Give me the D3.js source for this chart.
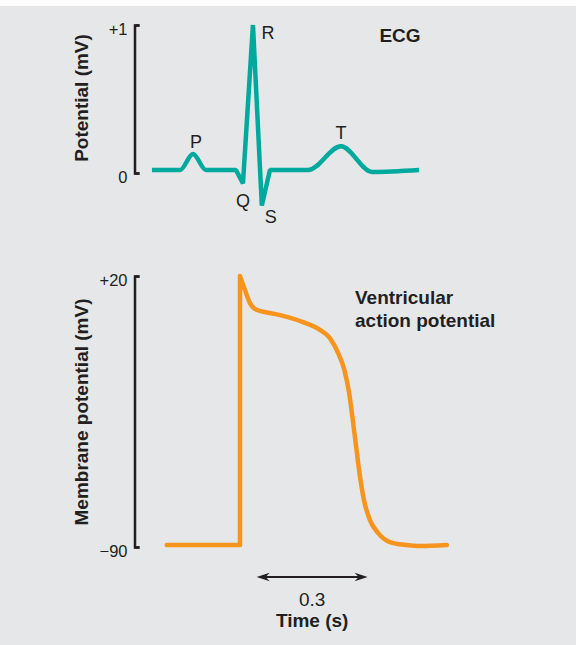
<!DOCTYPE html>
<html>
<head>
<meta charset="utf-8">
<script src="https://cdn.jsdelivr.net/npm/d3@7/dist/d3.min.js"></script>
<style>
  html, body { margin: 0; padding: 0; background: #ffffff; }
  svg { display: block; }
  text { font-family: "Liberation Sans", Arial, Helvetica, sans-serif; fill: #231f20; }
</style>
</head>
<body>
<svg id="chart" width="576" height="645"></svg>
<script>
// ---- ECG trace (time in s, potential in mV), split into smooth and sharp stretches ----
const ecgPWaveT   = [-0.238, -0.162, -0.127, -0.092, -0.011];
const ecgPWaveMv  = [0.02, 0.02, 0.128, 0.02, 0.02];
const ecgQrsT     = [-0.011, 0.008, 0.035, 0.059, 0.081];
const ecgQrsMv    = [0.02, -0.07, 1.0, -0.22, 0.02];
const ecgTWaveT   = [0.081, 0.184, 0.273, 0.357, 0.484];
const ecgTWaveMv  = [0.02, 0.02, 0.18, 0.007, 0.02];

const ecgTicks      = [0, 1];
const ecgTickLabels = ["0", "+1"];

// wave letters and the trace points they name
const waveNames = ["P", "Q", "R", "S", "T"];
const waveT     = [-0.127, 0.008, 0.035, 0.059, 0.273];
const waveMv    = [0.128, -0.07, 1.0, -0.22, 0.18];

// ---- Ventricular action potential (time in s, membrane potential in mV) ----
const apRestT  = [-0.198, 0, 0];
const apRestMv = [-89.2, -89.2, 20];
const apPlateauT  = [0, 0.0135, 0.027, 0.046, 0.081, 0.127, 0.170, 0.216, 0.243, 0.265, 0.282,
                     0.295, 0.304, 0.314, 0.323, 0.335, 0.351, 0.373, 0.405, 0.451, 0.486, 0.559];
const apPlateauMv = [20, 14.3, 9.0, 6.2, 5.0, 3.4, 1.3, -1.9, -5.2, -11.2, -18.1,
                     -27.5, -37.5, -49.4, -60.0, -70.9, -79.0, -84.3, -88.0, -89.2, -89.6, -89.2];

const apTicks      = [-90, 20];
const apTickLabels = ["\u221290", "+20"];

// ---- time bar ----
const timeBar      = [0.045, 0.345];
const timeBarLabel = "0.3";

const svg = d3.select("#chart");
const W = 576, H = 645;
const INK = "#231f20", TEAL = "#00a99d", ORANGE = "#f7941d";
const BOLD_SIZE = 19;

// panel background
svg.append("rect").attr("x", 0).attr("y", 0).attr("width", W).attr("height", H).attr("fill", "#ffffff");
svg.append("rect").attr("x", 0).attr("y", 6).attr("width", W).attr("height", H - 6).attr("fill", "#e6e7e8");

// shared time scale
const x = d3.scaleLinear().domain([0, 0.3]).range([240, 351]);
const yEcg = d3.scaleLinear().domain([0, 1]).range([173, 25]);
const yAp = d3.scaleLinear().domain([-90, 20]).range([547, 276]);

// join several stretches into one continuous path string
function joinedPath(parts, yScale) {
  let d = "";
  parts.forEach((p, i) => {
    const pts = p.t.map((t, k) => [t, p.v[k]]);
    const gen = d3.line().x(q => x(q[0])).y(q => yScale(q[1])).curve(p.curve);
    let s = gen(pts);
    if (i > 0) s = "L" + s.slice(1);
    d += s;
  });
  return d;
}

// axes: vertical bracket with short ticks pointing right
function bracketAxis(scale, ticks, labels, yShift) {
  const ax = d3.axisLeft(scale)
    .tickValues(ticks)
    .tickFormat((d, i) => labels[i])
    .tickSize(-5)
    .tickPadding(7);
  const g = svg.append("g").attr("transform", "translate(134.5,0)").call(ax);
  g.selectAll("path.domain, .tick line").attr("stroke", INK).attr("stroke-width", 2.5);
  g.selectAll(".tick text")
    .attr("fill", INK)
    .attr("font-size", 16.5)
    .attr("font-family", "'Liberation Sans', Arial, Helvetica, sans-serif")
    .attr("y", yShift);
  return g;
}
bracketAxis(yEcg, ecgTicks, ecgTickLabels, 4);
bracketAxis(yAp, apTicks, apTickLabels, 4);

// ECG trace
svg.append("path")
  .attr("d", joinedPath([
    { t: ecgPWaveT, v: ecgPWaveMv, curve: d3.curveMonotoneX },
    { t: ecgQrsT, v: ecgQrsMv, curve: d3.curveLinear },
    { t: ecgTWaveT, v: ecgTWaveMv, curve: d3.curveMonotoneX }
  ], yEcg))
  .attr("fill", "none")
  .attr("stroke", TEAL)
  .attr("stroke-width", 4.5)
  .attr("stroke-linejoin", "bevel");

// wave letters placed around their points
const waveOffsets = { P: [3, -6], Q: [0, 24], R: [15, 14], S: [9, 17], T: [0, -7] };
svg.append("g").selectAll("text").data(waveNames).join("text")
  .attr("x", (d, i) => x(waveT[i]) + waveOffsets[d][0])
  .attr("y", (d, i) => yEcg(waveMv[i]) + waveOffsets[d][1])
  .attr("text-anchor", "middle")
  .attr("font-size", 18)
  .text(d => d);

// action potential trace
svg.append("path")
  .attr("d", joinedPath([
    { t: apRestT, v: apRestMv, curve: d3.curveLinear },
    { t: apPlateauT, v: apPlateauMv, curve: d3.curveMonotoneX }
  ], yAp))
  .attr("fill", "none")
  .attr("stroke", ORANGE)
  .attr("stroke-width", 4.5)
  .attr("stroke-linecap", "round")
  .attr("stroke-linejoin", "round");

// titles
svg.append("text").attr("x", 400).attr("y", 42).attr("text-anchor", "middle")
  .attr("font-size", BOLD_SIZE).attr("font-weight", "bold").text("ECG");
const apTitle = svg.append("text").attr("x", 355).attr("y", 304)
  .attr("font-size", BOLD_SIZE).attr("font-weight", "bold");
apTitle.append("tspan").attr("x", 355).attr("y", 304).text("Ventricular");
apTitle.append("tspan").attr("x", 355).attr("y", 327).text("action potential");

// rotated axis titles
svg.append("text").attr("transform", "translate(88,98) rotate(-90)")
  .attr("text-anchor", "middle").attr("font-size", BOLD_SIZE).attr("font-weight", "bold")
  .text("Potential (mV)");
svg.append("text").attr("transform", "translate(88,412) rotate(-90)")
  .attr("text-anchor", "middle").attr("font-size", BOLD_SIZE).attr("font-weight", "bold")
  .text("Membrane potential (mV)");

// time bar with two arrowheads
const barY = 577;
const x0 = x(timeBar[0]), x1 = x(timeBar[1]);
svg.append("line").attr("x1", x0 + 4).attr("x2", x1 - 4).attr("y1", barY).attr("y2", barY)
  .attr("stroke", INK).attr("stroke-width", 1.8);
function arrowHead(tipX, dir) {
  const L = 13, h = 4.2, notch = 9;
  const p = d3.path();
  p.moveTo(tipX, barY);
  p.lineTo(tipX - dir * L, barY - h);
  p.lineTo(tipX - dir * notch, barY);
  p.lineTo(tipX - dir * L, barY + h);
  p.closePath();
  svg.append("path").attr("d", p.toString()).attr("fill", INK);
}
arrowHead(x0, -1);
arrowHead(x1, 1);

svg.append("text").attr("x", (x0 + x1) / 2).attr("y", 606).attr("text-anchor", "middle")
  .attr("font-size", 19).text(timeBarLabel);
svg.append("text").attr("x", (x0 + x1) / 2).attr("y", 627).attr("text-anchor", "middle")
  .attr("font-size", BOLD_SIZE).attr("font-weight", "bold").text("Time (s)");
</script>
</body>
</html>
